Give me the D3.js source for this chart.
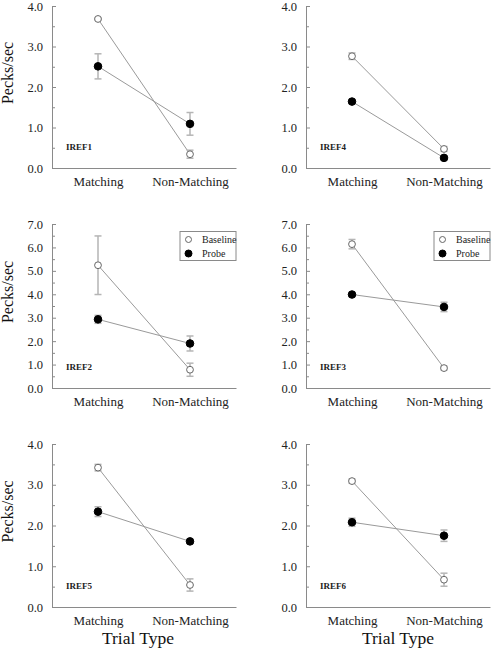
<!DOCTYPE html>
<html><head><meta charset="utf-8">
<script src="https://cdn.jsdelivr.net/npm/d3@7"></script>
<style>body{margin:0;background:#fff}svg{display:block}
svg text{font-family:"Liberation Serif","Times New Roman",Times,serif !important;}
</style>
</head><body>
<svg id="chart" width="500" height="654"></svg>
<script>
const categories = ["Matching", "Non-Matching"];
const seriesNames = ["Baseline", "Probe"];
const panelNames = ["IREF1", "IREF4", "IREF2", "IREF3", "IREF5", "IREF6"];
const yMaxes = [4, 4, 7, 7, 4, 4];
const baselineValues = [[3.68, 0.34], [2.76, 0.47], [5.24, 0.78], [6.14, 0.85], [3.42, 0.54], [3.09, 0.67]];
const baselineErrors = [[0.03, 0.10], [0.08, 0.06], [1.25, 0.28], [0.20, 0.08], [0.08, 0.15], [0.05, 0.16]];
const probeValues = [[2.51, 1.09], [1.64, 0.25], [2.93, 1.90], [3.99, 3.46], [2.34, 1.61], [2.08, 1.75]];
const probeErrors = [[0.31, 0.28], [0.04, 0.04], [0.17, 0.32], [0.05, 0.20], [0.12, 0.05], [0.10, 0.14]];
const legendPanels = ["IREF2", "IREF3"];
const yTitle = "Pecks/sec";
const xTitle = "Trial Type";

const svg = d3.select("#chart");
const cols = [{x0: 52, x1: 236}, {x0: 306, x1: 490}];
const rows = [{y0: 6, y1: 168}, {y0: 224, y1: 388}, {y0: 444, y1: 607}];
const axisColor = "#8a8a8a";

panelNames.forEach((name, i) => {
  const c = cols[i % 2], r = rows[Math.floor(i / 2)];
  const g = svg.append("g");
  const x = d3.scalePoint().domain(categories).range([c.x0, c.x1]).padding(0.5);
  const y = d3.scaleLinear().domain([0, yMaxes[i]]).range([r.y1, r.y0]);

  const minor = d3.range(0.5, yMaxes[i], 1);
  const gm = g.append("g").attr("transform", `translate(${c.x0},0)`)
    .call(d3.axisLeft(y).tickValues(minor).tickSizeInner(-3).tickSizeOuter(0).tickFormat(""));
  gm.select(".domain").remove();
  gm.selectAll("line").attr("stroke", axisColor);

  const ya = g.append("g").attr("transform", `translate(${c.x0},0)`)
    .call(d3.axisLeft(y).tickValues(d3.range(0, yMaxes[i] + 0.001, 1))
      .tickSizeInner(-4).tickSizeOuter(0).tickPadding(9).tickFormat(d3.format(".1f")));
  ya.select(".domain").attr("stroke", axisColor);
  ya.selectAll("line").attr("stroke", axisColor);
  ya.selectAll("text").attr("font-size", 12.5).attr("fill", "#222");

  const xa = g.append("g").attr("transform", `translate(0,${r.y1})`)
    .call(d3.axisBottom(x).tickSize(0).tickPadding(9));
  xa.select(".domain").attr("stroke", axisColor);
  xa.selectAll("text").attr("font-size", 13).attr("fill", "#222");

  const series = [
    {vals: baselineValues[i], errs: baselineErrors[i], fill: "#fff"},
    {vals: probeValues[i], errs: probeErrors[i], fill: "#000"}
  ];
  series.forEach(s => {
    g.append("path")
      .datum(categories.map((k, j) => [x(k), y(s.vals[j])]))
      .attr("d", d3.line()).attr("fill", "none").attr("stroke", "#9a9a9a").attr("stroke-width", 1);
  });
  series.forEach(s => {
    categories.forEach((k, j) => {
      const cx = x(k), lo = y(s.vals[j] - s.errs[j]), hi = y(s.vals[j] + s.errs[j]);
      const eg = g.append("g").attr("stroke", "#b5b5b5").attr("stroke-width", 1.5);
      eg.append("line").attr("x1", cx).attr("x2", cx).attr("y1", lo).attr("y2", hi);
      eg.append("line").attr("x1", cx - 3.5).attr("x2", cx + 3.5).attr("y1", lo).attr("y2", lo);
      eg.append("line").attr("x1", cx - 3.5).attr("x2", cx + 3.5).attr("y1", hi).attr("y2", hi);
    });
  });
  series.forEach(s => {
    categories.forEach((k, j) => {
      g.append("circle").attr("cx", x(k)).attr("cy", y(s.vals[j]))
        .attr("r", s.fill === "#000" ? 3.8 : 3.4)
        .attr("fill", s.fill).attr("stroke", s.fill === "#000" ? "#000" : "#666").attr("stroke-width", 1);
    });
  });

  g.append("text").attr("x", c.x0 + 14).attr("y", r.y1 - 18)
    .attr("font-weight", "bold").attr("font-size", 9).attr("fill", "#222")
    .text(name);

  if (i % 2 === 0) {
    const cy = (r.y0 + r.y1) / 2 - 14;
    g.append("text").attr("transform", `translate(13,${cy}) rotate(-90)`)
      .attr("text-anchor", "middle").attr("font-size", 16).attr("fill", "#111")
      .text(yTitle);
  }
  if (Math.floor(i / 2) === 2) {
    g.append("text").attr("x", i % 2 === 0 ? c.x0 + 86 : c.x0 + 92).attr("y", 644)
      .attr("text-anchor", "middle").attr("font-size", 17.5).attr("fill", "#111")
      .text(xTitle);
  }

  if (legendPanels.includes(name)) {
    const lx = c.x1 - 56, ly = r.y0 + 7.5;
    const lg = g.append("g");
    lg.append("rect").attr("x", lx).attr("y", ly).attr("width", 56).attr("height", 29)
      .attr("fill", "#fff").attr("stroke", "#8a8a8a").attr("stroke-width", 1);
    seriesNames.forEach((sn, k) => {
      const yy = ly + 8 + k * 14;
      lg.append("circle").attr("cx", lx + 8.5).attr("cy", yy).attr("r", k === 0 ? 3 : 3.5)
        .attr("fill", k === 0 ? "#fff" : "#000").attr("stroke", k === 0 ? "#666" : "#000");
      lg.append("text").attr("x", lx + 22).attr("y", yy + 3.5)
        .attr("font-size", 10).attr("fill", "#222").text(sn);
    });
  }
});
</script>
</body></html>
